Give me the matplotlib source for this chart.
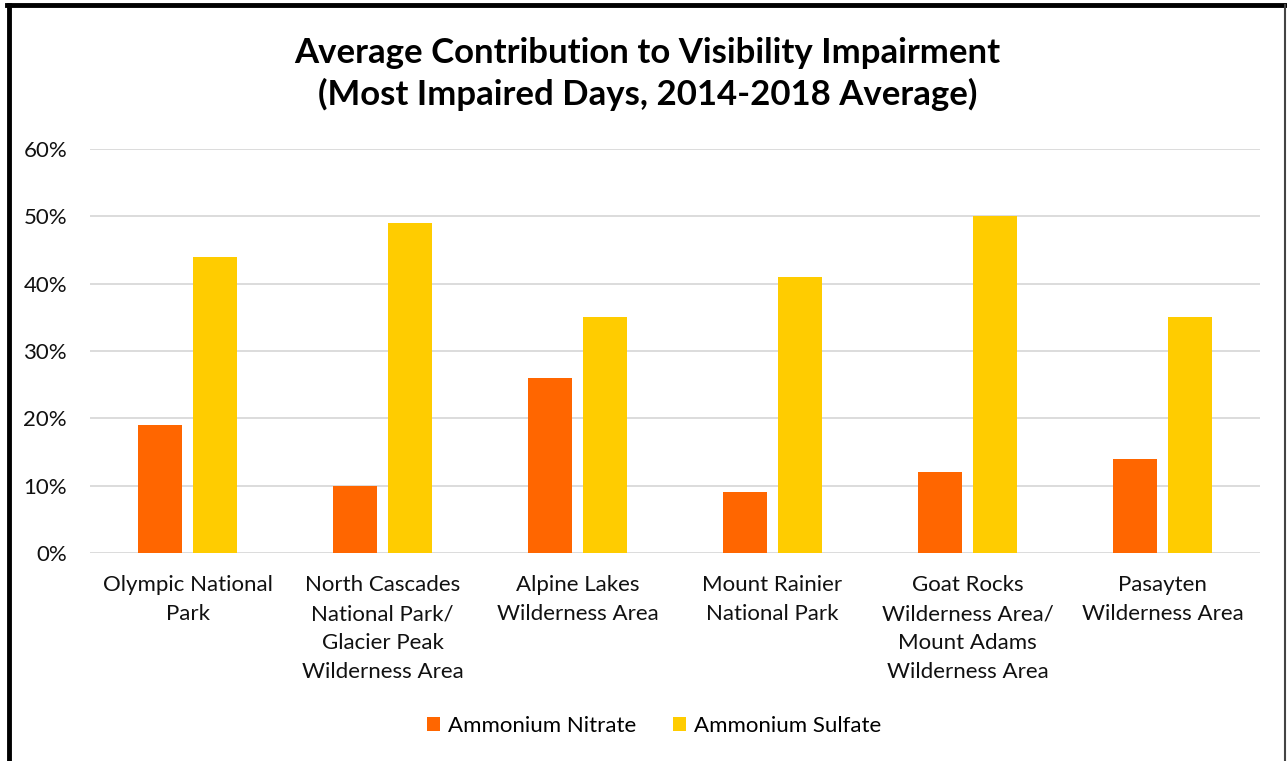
import matplotlib
matplotlib.use("Agg")
import matplotlib.pyplot as plt
from matplotlib.lines import Line2D
from matplotlib.ticker import PercentFormatter
import numpy as np

plt.rcParams['font.family'] = ['Lato', 'DejaVu Sans']

# data
categories = [
    "Olympic National\nPark",
    "North Cascades\nNational Park/\nGlacier Peak\nWilderness Area",
    "Alpine Lakes\nWilderness Area",
    "Mount Rainier\nNational Park",
    "Goat Rocks\nWilderness Area/\nMount Adams\nWilderness Area",
    "Pasayten\nWilderness Area",
]
nitrate = [19, 10, 26, 9, 12, 14]
sulfate = [44, 49, 35, 41, 50, 35]
series_names = ["Ammonium Nitrate", "Ammonium Sulfate"]
yticks = [0, 10, 20, 30, 40, 50, 60]

W, H = 1287, 761
fig = plt.figure(figsize=(W / 100, H / 100), dpi=100)
ax = fig.add_axes([90 / W, 1 - 553 / H, (1260 - 90) / W, (553 - 149) / H])

x = np.arange(len(categories))
bw = 0.226
off = 0.141
ax.bar(x - off, nitrate, bw, color="#FF6600", label=series_names[0], zorder=3)
ax.bar(x + off, sulfate, bw, color="#FFCC00", label=series_names[1], zorder=3)

ax.set_xlim(-0.5, len(categories) - 0.5)
ax.set_ylim(0, 60)
ax.set_yticks(yticks)
ax.yaxis.set_major_formatter(PercentFormatter(decimals=0))
ax.grid(axis="y", color="#D9D9D9", linewidth=1.3, zorder=0)
for s in ax.spines.values():
    s.set_visible(False)
ax.tick_params(length=0)
ax.tick_params(axis="y", labelsize=16, pad=16.5, labelcolor="#111111")
ax.set_xticks(x)
ax.set_xticklabels(categories, fontsize=16, color="#111111", linespacing=1.55, va="top")
ax.tick_params(axis="x", pad=16)

fig.text(0.503, 1 - 74 / H, "Average Contribution to Visibility Impairment\n(Most Impaired Days, 2014-2018 Average)",
         ha="center", va="center", fontsize=25, fontweight="bold", linespacing=1.3)

fig.legend(loc="center", bbox_to_anchor=(0.508, 1 - 726 / H), ncol=2, frameon=False,
           fontsize=16, handlelength=0.6, handleheight=0.6, handletextpad=0.35,
           columnspacing=1.65)

# outer border
fig.add_artist(Line2D([9 / W, 9 / W], [0, 1 - 5 / H], color="black", linewidth=3.5, transform=fig.transFigure))
fig.add_artist(Line2D([7 / W, 1286 / W], [1 - 5 / H, 1 - 5 / H], color="black", linewidth=3.5, transform=fig.transFigure))
fig.add_artist(Line2D([1285 / W, 1285 / W], [0, 1 - 5 / H], color="#444444", linewidth=1.5, transform=fig.transFigure))

fig.savefig("out.png", dpi=100)
